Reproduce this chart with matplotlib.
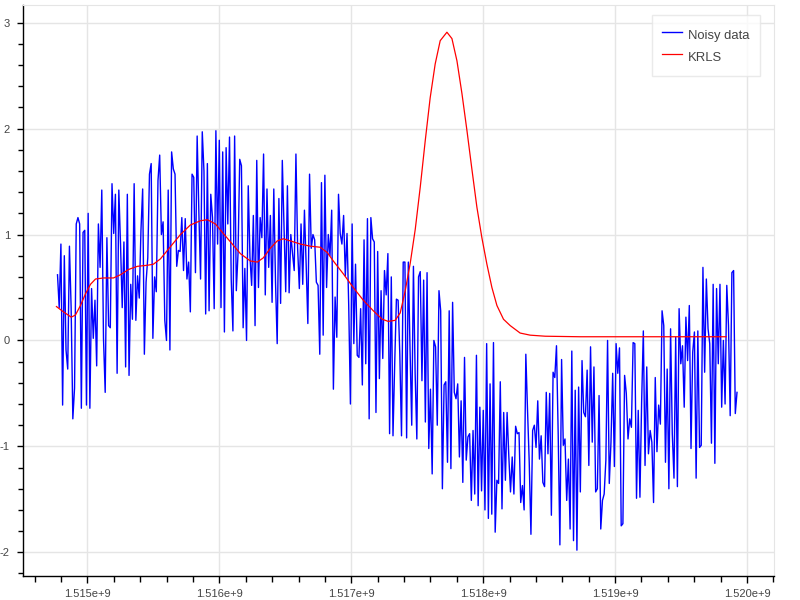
import numpy as np
import matplotlib
matplotlib.use('Agg')
import matplotlib.pyplot as plt
from matplotlib.ticker import MultipleLocator, FuncFormatter

plt.rcParams['font.family'] = ['Liberation Sans', 'DejaVu Sans']
plt.rcParams['axes.unicode_minus'] = False

# time range of the noisy samples (unix seconds)
noisy_start = 1.514773e9
noisy_end = 1.519924e9

# noisy data values left to right
noisy_y = [
    0.62, 0.31, 0.91, -0.61, 0.80, -0.09, -0.27, 0.89, 0.31, -0.74, -0.45, 1.10,
    1.16, 1.10, -0.64, 1.02, 1.04, -0.61, 1.20, -0.64, 0.49, 0.02, 0.38, -0.24,
    1.10, 0.69, 1.42, 0.02, -0.49, 0.97, 0.14, 0.12, 1.48, 1.01, 1.38, -0.31,
    1.42, 0.91, 0.31, 0.93, -0.25, 1.38, -0.33, 0.53, 0.20, 1.48, 0.19, 0.61,
    0.40, 1.04, 1.43, -0.13, 0.55, 0.78, 1.57, 1.67, 0.02, 0.60, 0.46, 1.51,
    1.75, 1.00, 1.12, 0.19, 0.00, 1.42, -0.09, 1.78, 1.62, 1.57, 0.70, 0.85,
    0.84, 1.16, 0.66, 1.15, 0.58, 0.74, 0.27, 1.57, 1.54, 0.64, 1.93, 1.21,
    0.58, 1.97, 1.60, 0.25, 1.67, 0.28, 1.38, 1.16, 0.30, 1.98, 0.91, 1.89,
    0.31, 1.78, 0.08, 1.82, 1.10, 1.92, 0.58, 0.09, 1.93, 0.47, 0.82, 1.71,
    1.65, 0.12, 0.68, 0.00, 1.46, 0.79, 0.52, 1.18, 0.14, 1.70, 0.50, 1.16,
    0.97, 1.76, 0.43, 1.43, 0.69, 1.18, 0.36, 1.43, 0.56, -0.03, 1.34, 0.35,
    1.70, 1.07, 0.46, 1.46, 0.45, 1.00, 0.82,
    0.66, 1.76, 0.87, 0.49, 1.10, 0.53, 1.23, 0.72, 0.16, 1.57, 0.87, 1.00,
    0.95, 0.55, 0.52, -0.13, 1.49, 0.05, 1.56, 0.50, 1.00, 0.80, 1.23, -0.46,
    0.41, 0.03, 1.38, 1.01, 0.91, 1.18, 0.61, 1.01, 0.33, -0.60, 1.10, -0.03,
    0.72, -0.14, -0.16, 0.30, -0.42, 0.95, -0.22, 1.15, -0.74, 1.16, 0.96, 0.93,
    -0.68, 0.84, -0.36, 0.47, -0.17, 0.66, 0.43, 0.82, -0.88, 0.60, -0.90, -0.22,
    0.39, 0.38, -0.13, -0.90, 0.74, 0.74, -0.92, 0.74, -0.08, -0.80, 0.70, -0.31,
    -0.93, 0.60, 0.65, -0.38,
    0.57, -0.77, 0.64, -1.02, -0.46, -1.26, 0.00, -0.06, -0.80, 0.47, 0.28, -1.40,
    -0.42, -0.39, -1.15, 0.28, -1.21, 0.36, -0.49, -0.55, -0.41, -1.10, -0.57, -1.34,
    -0.16, -1.13, -0.91, -0.88, -1.51, -0.85, -1.45, -0.14, -1.56, -0.63, -1.42, -0.66,
    -1.60, -0.03, -1.68, -0.41, -1.64, -0.02, -1.81, -1.32, -1.35, -0.39, -1.59, -0.68,
    -1.32, -0.68, -1.09, -1.43, -1.10, -1.45, -0.81, -0.88, -0.87, -1.53, -1.37, -1.60,
    -0.13, -0.66, -1.15, -1.83, -0.85, -0.80,
    -1.01, -0.57, -1.12, -0.90, -1.34, -1.38, -0.49, -1.07, -0.50, -1.65, -0.30, -0.35,
    -0.05, -0.88, -1.93, -0.18, -0.99, -0.93, -1.51, -1.12, -1.78, -0.10, -1.89, -0.47,
    -1.98, -0.44, -1.43, -0.19, -0.68, -0.72, -0.28, -1.18, -0.06, -0.96, -0.25, -1.43,
    -1.40, -0.52, -1.78, -1.51, -1.45, -1.13, 0.00, -1.35, -0.96, -0.31, -1.19, -0.03,
    -0.31, -0.07, -1.75, -1.73, -0.33, -0.50, -0.93, -0.74, -0.82, -0.02,
    -0.03, -1.49, -0.66, -1.48, -0.58, 0.09, -1.18, -0.25, -1.07, -0.85, -0.96, -1.53,
    -0.35, -1.05, -0.61, -0.79, 0.28, 0.14, -1.15, -0.27, -1.40, 0.11, -0.88, -1.30,
    0.03, -1.38, 0.30, -0.22, -0.05, -0.63, 0.22, -0.19, 0.33, -1.02, -0.11, 0.08,
    -1.30, 0.09, -1.01, -0.99, 0.69, -0.30, 0.58, 0.11, -0.03, -0.97, 0.53, -1.16,
    0.49, -0.22, 0.53, -0.63, 0.00, -0.60, 0.52, 0.14, -0.71, 0.64, 0.66, -0.69,
    -0.49,
]

# KRLS fit, sampled along the curve
krls_t = [
    1.514765e9, 1.514818e9, 1.514877e9, 1.514909e9, 1.514947e9, 1.514985e9,
    1.515023e9, 1.515061e9, 1.515121e9, 1.515197e9, 1.515250e9, 1.515311e9,
    1.515379e9, 1.515455e9, 1.515500e9, 1.515553e9, 1.515606e9, 1.515652e9,
    1.515705e9, 1.515780e9, 1.515856e9, 1.515909e9, 1.515970e9, 1.516030e9,
    1.516098e9, 1.516159e9, 1.516235e9, 1.516288e9, 1.516333e9, 1.516386e9,
    1.516439e9, 1.516485e9, 1.516538e9, 1.516614e9, 1.516689e9, 1.516765e9,
    1.516818e9, 1.516864e9, 1.516939e9, 1.517015e9, 1.517091e9, 1.517167e9,
    1.517235e9, 1.517280e9, 1.517333e9, 1.517371e9, 1.517409e9, 1.517447e9,
    1.517485e9, 1.517523e9, 1.517561e9, 1.517598e9, 1.517636e9, 1.517674e9,
    1.517725e9, 1.517763e9, 1.517801e9, 1.517839e9, 1.517877e9, 1.517914e9,
    1.517952e9, 1.517990e9, 1.518028e9, 1.518066e9, 1.518104e9, 1.518154e9,
    1.518205e9, 1.518280e9, 1.518356e9, 1.518470e9, 1.518735e9, 1.519265e9,
    1.519841e9,
]
krls_y = [
    0.32, 0.27, 0.22, 0.24, 0.33, 0.44,
    0.53, 0.58, 0.59, 0.59, 0.62, 0.67,
    0.70, 0.71, 0.72, 0.77, 0.85, 0.92,
    1.00, 1.09, 1.13, 1.14, 1.10, 1.01,
    0.91, 0.82, 0.75, 0.74, 0.78, 0.87,
    0.94, 0.96, 0.94, 0.91, 0.89, 0.88,
    0.83, 0.75, 0.63, 0.50, 0.38, 0.28,
    0.20, 0.18, 0.19, 0.26, 0.47, 0.73,
    1.05, 1.45, 1.89, 2.29, 2.61, 2.83,
    2.91, 2.85, 2.64, 2.33, 1.98, 1.62,
    1.26, 0.97, 0.72, 0.50, 0.33, 0.20,
    0.14, 0.07, 0.05, 0.04, 0.035, 0.035,
    0.035,
]

GRID = '#e5e5e5'
TEXT = '#444444'


def fmt_time(val, pos):
    return '%.3fe+9' % (val / 1e9)


noisy_t = np.linspace(noisy_start, noisy_end, len(noisy_y))

fig = plt.figure(figsize=(8, 6), dpi=100)
ax = fig.add_axes([22.5 / 800, 24.5 / 600, 751.5 / 800, 570.5 / 600])

ax.plot(noisy_t, noisy_y, color='blue', lw=1.0, label='Noisy data')
ax.plot(krls_t, krls_y, color='red', lw=0.9, label='KRLS')

ax.set_xlim(1.5145076e9, 1.5202045e9)
ax.set_ylim(-2.219, 3.167)

ax.xaxis.set_major_locator(MultipleLocator(1e6))
ax.xaxis.set_minor_locator(MultipleLocator(2e5))
ax.xaxis.set_major_formatter(FuncFormatter(fmt_time))
ax.yaxis.set_major_locator(MultipleLocator(1))
ax.yaxis.set_minor_locator(MultipleLocator(0.2))

ax.grid(True, which='major', color=GRID, lw=1.0)
ax.set_axisbelow(True)

for side in ['top', 'right']:
    ax.spines[side].set_color(GRID)
for side in ['left', 'bottom']:
    ax.spines[side].set_color('black')
    ax.spines[side].set_linewidth(1.0)

ax.tick_params(axis='x', which='major', direction='out', length=5, width=1,
               color='black', labelcolor=TEXT, labelsize=8, pad=5)
ax.tick_params(axis='x', which='minor', direction='out', length=4, width=1,
               color='black')
ax.tick_params(axis='y', which='major', direction='out', length=4, width=1,
               color='black', labelcolor=TEXT, labelsize=8, pad=5)
ax.tick_params(axis='y', which='minor', direction='out', length=3.5, width=1,
               color='black')

leg = ax.legend(loc='upper right', bbox_to_anchor=(760 / 800, 1 - 15 / 600),
                bbox_transform=fig.transFigure, borderaxespad=0,
                prop={'family': 'Liberation Sans', 'size': 9.4},
                frameon=True, fancybox=False, handlelength=1.55,
                handleheight=1.85, handletextpad=0.45, borderpad=0.78,
                labelspacing=0.23)
leg.get_frame().set_edgecolor(GRID)
leg.get_frame().set_linewidth(1.0)
for txt in leg.get_texts():
    txt.set_color(TEXT)

fig.savefig('out.png', dpi=100)
